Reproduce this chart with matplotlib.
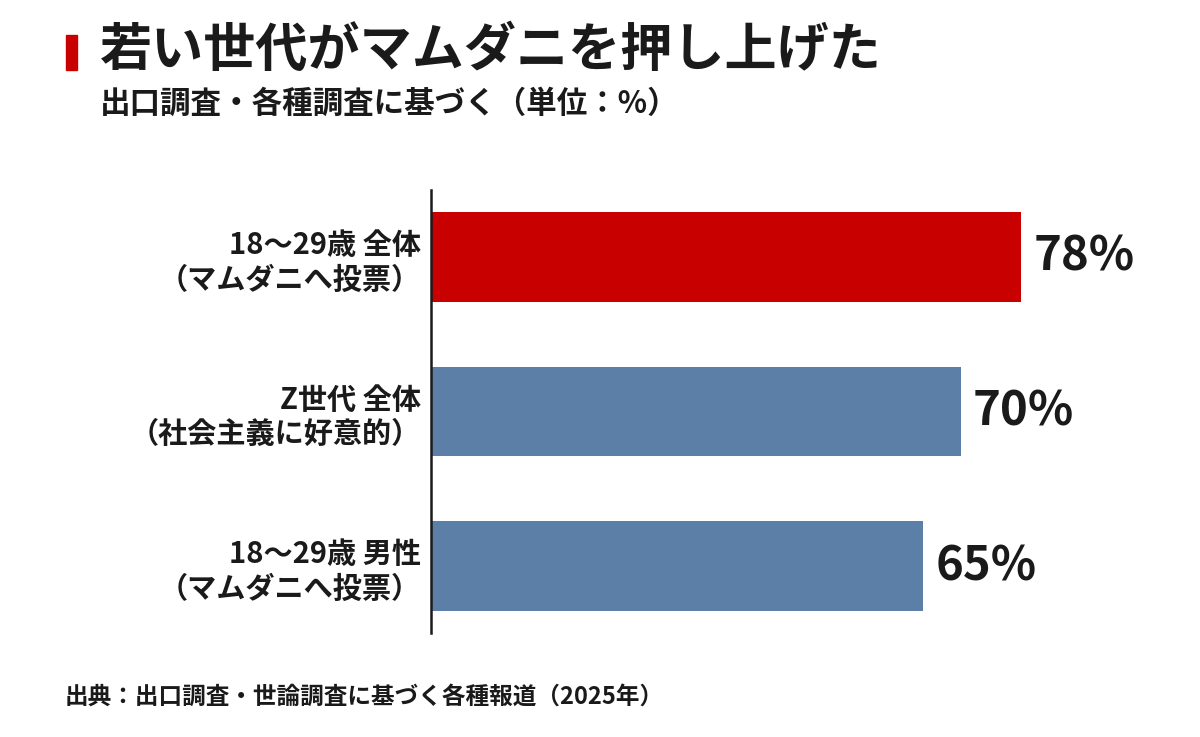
import matplotlib
matplotlib.use("Agg")
from matplotlib import pyplot as plt
from matplotlib.patches import Rectangle

plt.rcParams['font.family'] = ['Noto Sans CJK JP', 'DejaVu Sans']

labels = ["18～29歳 全体\n（マムダニへ投票）",
          "Z世代 全体\n（社会主義に好意的）",
          "18～29歳 男性\n（マムダニへ投票）"]
values = [78, 70, 65]
colors = ["#C80000", "#5B7FA6", "#5B7FA6"]

title = "若い世代がマムダニを押し上げた"
subtitle = "出口調査・各種調査に基づく（単位：%）"
source = "出典：出口調査・世論調査に基づく各種報道（2025年）"

fig = plt.figure(figsize=(12, 7.37), dpi=100)
ax = fig.add_axes([431 / 1200, 1 - 633 / 737, 757 / 1200, 443 / 737])

y = list(range(len(values)))
ax.barh(y, values, height=0.58, color=colors)
ax.set_xlim(0, 100)
ax.set_ylim(2.43, -0.43)

for yi, v in zip(y, values):
    ax.text(v + 1.6, yi, f"{v}%", va="center", ha="left",
            fontsize=34, fontweight="bold", color="#1a1a1a")

ax.set_yticks(y)
ax.set_yticklabels(labels, fontsize=21, fontweight="bold",
                   color="#1a1a1a", linespacing=1.2)
ax.tick_params(axis="y", length=0, pad=7)
ax.set_xticks([])
for s in ["top", "right", "bottom"]:
    ax.spines[s].set_visible(False)
ax.spines["left"].set_linewidth(1.8)
ax.spines["left"].set_color("#1a1a1a")

fig.patches.append(Rectangle((66 / 1200, 1 - 70 / 737), 11 / 1200, 35 / 737,
                             transform=fig.transFigure, color="#C80000"))
fig.text(100 / 1200, 1 - 50 / 737, title, fontsize=37.5, fontweight="bold",
         va="center", ha="left", color="#1a1a1a")
fig.text(100 / 1200, 1 - 104 / 737, subtitle, fontsize=22, fontweight="bold",
         va="center", ha="left", color="#1a1a1a")
fig.text(65 / 1200, 1 - 697 / 737, source, fontsize=17, fontweight="bold",
         va="center", ha="left", color="#1a1a1a")

fig.savefig("out.png", dpi=100)
